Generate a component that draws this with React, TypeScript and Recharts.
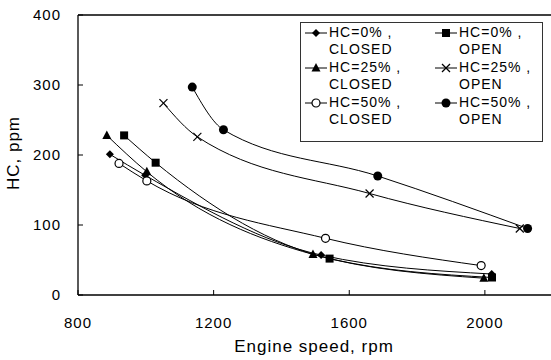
import { LineChart, Line, XAxis, YAxis, ReferenceLine } from 'recharts';

/* ---- HC emission vs engine speed ---- */

type Pt = { x: number; y: number };
type Marker = 'diamond' | 'square' | 'triangle' | 'cross' | 'circleOpen' | 'circleFilled';

const speedTicks = [800, 1200, 1600, 2000];
const hcTicks = [0, 100, 200, 300, 400];

const hc0Closed: Pt[] = [
  { x: 894, y: 201 },
  { x: 998, y: 171 },
  { x: 1517, y: 57 },
  { x: 2020, y: 30 },
];
const hc0Open: Pt[] = [
  { x: 936, y: 228 },
  { x: 1029, y: 189 },
  { x: 1542, y: 52 },
  { x: 2021, y: 25 },
];
const hc25Closed: Pt[] = [
  { x: 885, y: 228 },
  { x: 1003, y: 176 },
  { x: 1493, y: 58 },
  { x: 1997, y: 24 },
];
const hc25Open: Pt[] = [
  { x: 1052, y: 274 },
  { x: 1152, y: 226 },
  { x: 1660, y: 145 },
  { x: 2103, y: 95 },
];
const hc50Closed: Pt[] = [
  { x: 921, y: 188 },
  { x: 1003, y: 163 },
  { x: 1530, y: 81 },
  { x: 1989, y: 42 },
];
const hc50Open: Pt[] = [
  { x: 1137, y: 297 },
  { x: 1229, y: 236 },
  { x: 1684, y: 170 },
  { x: 2126, y: 95 },
];

const series: { name: string; sub: string; data: Pt[]; marker: Marker }[] = [
  { name: 'HC=0% ,', sub: 'CLOSED', data: hc0Closed, marker: 'diamond' },
  { name: 'HC=0% ,', sub: 'OPEN', data: hc0Open, marker: 'square' },
  { name: 'HC=25% ,', sub: 'CLOSED', data: hc25Closed, marker: 'triangle' },
  { name: 'HC=25% ,', sub: 'OPEN', data: hc25Open, marker: 'cross' },
  { name: 'HC=50% ,', sub: 'CLOSED', data: hc50Closed, marker: 'circleOpen' },
  { name: 'HC=50% ,', sub: 'OPEN', data: hc50Open, marker: 'circleFilled' },
];

const FONT = '"Liberation Sans", Arial, sans-serif';
const INK = '#000';

function MarkerShape({ kind, cx, cy }: { kind: Marker; cx: number; cy: number }) {
  switch (kind) {
    case 'diamond':
      return <polygon points={`${cx},${cy - 4} ${cx + 4},${cy} ${cx},${cy + 4} ${cx - 4},${cy}`} fill={INK} />;
    case 'square':
      return <rect x={cx - 4} y={cy - 4} width={8} height={8} fill={INK} />;
    case 'triangle':
      return <polygon points={`${cx},${cy - 5} ${cx + 4.5},${cy + 3.5} ${cx - 4.5},${cy + 3.5}`} fill={INK} />;
    case 'cross':
      return (
        <g stroke={INK} strokeWidth={1.2}>
          <line x1={cx - 4} y1={cy - 4} x2={cx + 4} y2={cy + 4} />
          <line x1={cx - 4} y1={cy + 4} x2={cx + 4} y2={cy - 4} />
        </g>
      );
    case 'circleOpen':
      return <circle cx={cx} cy={cy} r={4} fill="#fff" stroke={INK} strokeWidth={1.2} />;
    case 'circleFilled':
      return <circle cx={cx} cy={cy} r={4.5} fill={INK} />;
  }
}

function makeDot(kind: Marker) {
  return (props: any) => {
    const { cx, cy, index } = props;
    if (cx == null || cy == null) return <g key={`d-${index}`} />;
    return (
      <g key={`d-${kind}-${index}`}>
        <MarkerShape kind={kind} cx={cx} cy={cy} />
      </g>
    );
  };
}

// ticks point inward, labels sit outside the frame
function SpeedTick({ x, y, payload }: any) {
  return (
    <g>
      <line x1={x} x2={x} y1={y} y2={y - 5} stroke={INK} />
      <text x={x} y={y + 33} textAnchor="middle" fontSize={15} fontFamily={FONT} fill={INK} letterSpacing={1}>
        {payload.value}
      </text>
    </g>
  );
}

function HcTick({ x, y, payload }: any) {
  return (
    <g>
      <line x1={x} x2={x + 5} y1={y} y2={y} stroke={INK} />
      <text x={x - 17} y={y + 5} textAnchor="end" fontSize={15} fontFamily={FONT} fill={INK} letterSpacing={1}>
        {payload.value}
      </text>
    </g>
  );
}

function LegendIcon({ kind }: { kind: Marker }) {
  return (
    <svg width={22} height={10} style={{ position: 'absolute', left: 0, top: 4 }}>
      <line x1={0} x2={22} y1={5} y2={5} stroke={INK} strokeWidth={1} />
      <MarkerShape kind={kind} cx={11} cy={5} />
    </svg>
  );
}

function HcLegend() {
  return (
    <div
      style={{
        position: 'absolute',
        left: 300,
        top: 22,
        width: 243,
        height: 120,
        border: '1px solid #333',
        background: '#fff',
        boxSizing: 'border-box',
        fontFamily: FONT,
        fontSize: 14,
        letterSpacing: 1,
        color: INK,
      }}
    >
      {series.map((s, i) => (
        <div
          key={i}
          style={{
            position: 'absolute',
            left: i % 2 === 0 ? 4 : 134,
            top: 1 + Math.floor(i / 2) * 35,
            lineHeight: '17px',
            paddingLeft: 24,
            whiteSpace: 'nowrap',
          }}
        >
          <LegendIcon kind={s.marker} />
          <div>{s.name}</div>
          <div>{s.sub}</div>
        </div>
      ))}
    </div>
  );
}

export default function App() {
  return (
    <div style={{ position: 'absolute', left: 0, top: 0, width: 551, height: 360, background: '#fff' }}>
      <LineChart width={551} height={360} margin={{ top: 15, right: 0, left: 48, bottom: 35 }}>
        <XAxis
          type="number"
          dataKey="x"
          domain={[800, 2195]}
          ticks={speedTicks}
          allowDataOverflow
          height={30}
          tickSize={0}
          tickMargin={0}
          tickLine={false}
          tick={<SpeedTick />}
          axisLine={{ stroke: INK, strokeWidth: 1.3 }}
        />
        <YAxis
          type="number"
          dataKey="y"
          domain={[0, 400]}
          ticks={hcTicks}
          allowDataOverflow
          width={30}
          tickSize={0}
          tickMargin={0}
          tickLine={false}
          tick={<HcTick />}
          axisLine={{ stroke: INK, strokeWidth: 1.3 }}
        />
        <ReferenceLine y={400} stroke={INK} strokeWidth={1.3} />
        {series.map((s, i) => (
          <Line
            key={i}
            data={s.data}
            dataKey="y"
            type="monotone"
            stroke={INK}
            strokeWidth={1}
            dot={makeDot(s.marker)}
            activeDot={false}
            isAnimationActive={false}
          />
        ))}
      </LineChart>
      <div
        style={{
          position: 'absolute',
          left: 14,
          top: 153,
          transform: 'translate(-50%, -50%) rotate(-90deg)',
          fontFamily: FONT,
          fontSize: 17,
          letterSpacing: 1,
          color: INK,
          whiteSpace: 'nowrap',
        }}
      >
        HC, ppm
      </div>
      <div
        style={{
          position: 'absolute',
          left: 314,
          top: 347,
          transform: 'translate(-50%, -50%)',
          fontFamily: FONT,
          fontSize: 17,
          letterSpacing: 1,
          color: INK,
          whiteSpace: 'nowrap',
        }}
      >
        Engine speed, rpm
      </div>
      <HcLegend />
    </div>
  );
}
